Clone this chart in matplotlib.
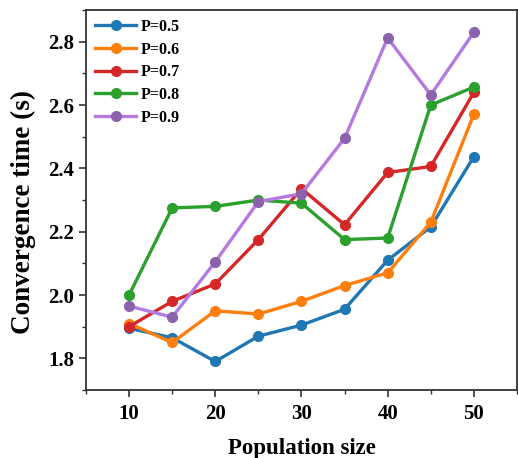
import matplotlib
matplotlib.use("Agg")
import matplotlib.pyplot as plt
from matplotlib.ticker import MultipleLocator

plt.rcParams['font.family'] = ['Liberation Serif', 'DejaVu Serif']
plt.rcParams['font.weight'] = 'bold'

pop = [10, 15, 20, 25, 30, 35, 40, 45, 50]
p05 = [1.895, 1.865, 1.79, 1.87, 1.905, 1.955, 2.11, 2.215, 2.437]
p06 = [1.91, 1.85, 1.95, 1.94, 1.98, 2.03, 2.07, 2.23, 2.571]
p07 = [1.90, 1.98, 2.035, 2.175, 2.336, 2.222, 2.387, 2.406, 2.64]
p08 = [2.0, 2.275, 2.28, 2.30, 2.29, 2.175, 2.18, 2.60, 2.657]
p09 = [1.965, 1.93, 2.105, 2.295, 2.32, 2.495, 2.812, 2.632, 2.83]
labels = ['P=0.5', 'P=0.6', 'P=0.7', 'P=0.8', 'P=0.9']

series = [p05, p06, p07, p08, p09]
line_colors = ['#1f77b4', '#ff7f0e', '#d62728', '#2ca02c', '#b57ae0']
marker_colors = ['#1f77b4', '#ff7f0e', '#d62728', '#2ca02c', '#8c62ad']

fig = plt.figure(figsize=(5.18, 4.58), dpi=100)
ax = fig.add_axes([0.166, 0.1485, 0.832, 0.8295])

for ys, lab, lc, mc in zip(series, labels, line_colors, marker_colors):
    ax.plot(pop, ys, '-o', color=lc, mfc=mc, mec=mc, lw=2.4, ms=7, label=lab)

ax.set_xlim(5, 55)
ax.set_ylim(1.7, 2.9)
ax.xaxis.set_major_locator(MultipleLocator(10))
ax.xaxis.set_minor_locator(MultipleLocator(5))
ax.yaxis.set_major_locator(MultipleLocator(0.2))
ax.yaxis.set_minor_locator(MultipleLocator(0.1))
ax.yaxis.set_major_formatter(matplotlib.ticker.FormatStrFormatter('%.1f'))
ax.tick_params(axis='both', which='major', direction='out', length=5, width=1.2,
               labelsize=15, colors='#333333', labelcolor='black')
ax.tick_params(axis='x', which='major', pad=5)
ax.tick_params(axis='both', which='minor', direction='out', length=3, width=1.0, colors='#333333')
for lab in ax.get_xticklabels() + ax.get_yticklabels():
    lab.set_fontweight('bold')
for s in ax.spines.values():
    s.set_color('#333333')
    s.set_linewidth(1.3)

ax.set_xlabel('Population size', fontsize=16.5, fontweight='bold', labelpad=10)
ax.set_ylabel('Convergence time (s)', fontsize=19.5, fontweight='bold')
ax.yaxis.set_label_coords(-0.115, 0.468)

ax.legend(loc='upper left', frameon=False, handlelength=2.6,
          labelspacing=0.42, borderaxespad=0.15, handletextpad=0.3,
          prop={'weight': 'bold', 'size': 11.5})

fig.savefig('out.png', dpi=100)
